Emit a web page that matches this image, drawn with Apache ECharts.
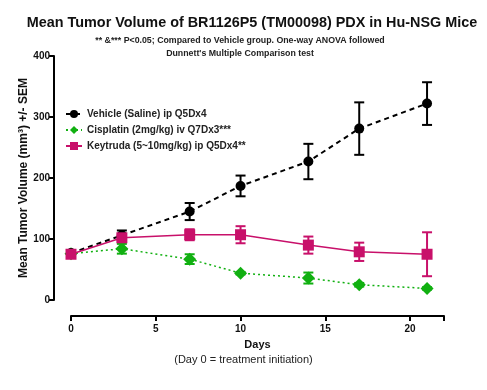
<!DOCTYPE html>
<html><head><meta charset="utf-8">
<script src="https://cdn.jsdelivr.net/npm/echarts@6/dist/echarts.min.js"></script>
<style>html,body{margin:0;padding:0;background:#fff}#c{width:487px;height:390px}</style>
</head><body><div id="c"></div>
<script>
const days = [0, 3, 7, 10, 14, 17, 21];
const vehicleMean = [77, 106, 145, 187, 227, 281, 322];
const vehicleSem = [4, 8, 14, 17, 29, 43, 35];
const cisplatinMean = [76, 84, 67, 44, 36, 25, 19];
const cisplatinSem = [3, 8, 8, 2, 9, 3, 2];
const keytrudaMean = [75, 102, 107, 107, 90, 79, 75];
const keytrudaSem = [3, 4, 9, 14, 14, 15, 36];
const yTicks = [0, 100, 200, 300, 400];
const xTicks = [0, 5, 10, 15, 20];
const names = ['Vehicle (Saline) ip Q5Dx4', 'Cisplatin (2mg/kg) iv Q7Dx3***', 'Keytruda (5~10mg/kg) ip Q5Dx4**'];
const colors = ['#000000', '#11b011', '#c8106a'];

const FONT = 'Liberation Sans, Arial, sans-serif';
const chart = echarts.init(document.getElementById('c'));

function pairs(m) { return days.map((d, i) => [d, m[i]]); }
function errData(m, s) { return days.map((d, i) => [d, m[i] - s[i], m[i] + s[i]]); }
function errSeries(m, s, color) {
  return {
    type: 'custom', silent: true, clip: false, z: 1,
    data: errData(m, s),
    renderItem: function (params, api) {
      const x = api.value(0);
      const lo = api.coord([x, api.value(1)]);
      const hi = api.coord([x, api.value(2)]);
      const w = 5;
      const st = { stroke: color, lineWidth: 2, fill: null };
      return { type: 'group', children: [
        { type: 'line', shape: { x1: lo[0], y1: lo[1], x2: hi[0], y2: hi[1] }, style: st },
        { type: 'line', shape: { x1: lo[0] - w, y1: lo[1], x2: lo[0] + w, y2: lo[1] }, style: st },
        { type: 'line', shape: { x1: hi[0] - w, y1: hi[1], x2: hi[0] + w, y2: hi[1] }, style: st }
      ]};
    }
  };
}

chart.setOption({
  animation: false,
  backgroundColor: '#fff',
  title: [
    { text: 'Mean Tumor Volume of BR1126P5 (TM00098) PDX in Hu-NSG Mice', left: 247, textAlign: 'center', top: 11,
      textStyle: { fontFamily: FONT, fontWeight: 'bold', fontSize: 14.4, color: '#111' } },
    { text: "** &*** P<0.05; Compared to Vehicle group. One-way ANOVA followed\nDunnett's Multiple Comparison test", left: 235, textAlign: 'center', top: 29,
      textStyle: { fontFamily: FONT, fontWeight: 'bold', fontSize: 8.8, lineHeight: 13, color: '#222', align: 'center' } }
  ],
  legend: {
    orient: 'vertical', left: 60, top: 104, itemGap: 6, itemWidth: 16, itemHeight: 10,
    data: names,
    textStyle: { fontFamily: FONT, fontWeight: 'bold', fontSize: 10, color: '#222' }
  },
  grid: { left: 71, right: 43, top: 56, bottom: 90, containLabel: false },
  xAxis: {
    type: 'value', min: 0, max: 22, interval: 5, offset: 16,
    name: 'Days', nameLocation: 'middle', nameGap: 23, nameMoveOverlap: false,
    nameTextStyle: { fontFamily: FONT, fontWeight: 'bold', fontSize: 11, color: '#111' },
    axisLine: { onZero: false, lineStyle: { color: '#000', width: 2 } },
    axisTick: { length: 5, lineStyle: { color: '#000', width: 2 } },
    axisLabel: { fontFamily: FONT, fontWeight: 'bold', fontSize: 10, color: '#111', margin: 8,
      formatter: v => xTicks.includes(v) ? String(v) : '' },
    splitLine: { show: false }
  },
  yAxis: {
    type: 'value', min: 0, max: 400, interval: 100, offset: 17,
    name: 'Mean Tumor Volume (mm³) +/- SEM', nameLocation: 'middle', nameGap: 24, nameMoveOverlap: false,
    nameTextStyle: { fontFamily: FONT, fontWeight: 'bold', fontSize: 12, color: '#111' },
    axisLine: { show: true, onZero: false, lineStyle: { color: '#000', width: 2 } },
    axisTick: { show: true, length: 5, lineStyle: { color: '#000', width: 2 } },
    axisLabel: { fontFamily: FONT, fontWeight: 'bold', fontSize: 10, color: '#111', margin: 4,
      formatter: v => yTicks.includes(v) ? String(v) : '' },
    splitLine: { show: false }
  },
  graphic: [
    { type: 'text', left: 'center', top: 354, style: { text: '(Day 0 = treatment initiation)', x: 0, fontFamily: FONT, fontSize: 11, fill: '#222' } }
  ],
  series: [
    errSeries(vehicleMean, vehicleSem, colors[0]),
    errSeries(cisplatinMean, cisplatinSem, colors[1]),
    errSeries(keytrudaMean, keytrudaSem, colors[2]),
    { name: names[0], type: 'line', data: pairs(vehicleMean), clip: false, z: 3,
      symbol: 'circle', symbolSize: 10, itemStyle: { color: colors[0] },
      lineStyle: { color: colors[0], width: 2, type: [5, 4] } },
    { name: names[1], type: 'line', data: pairs(cisplatinMean), clip: false, z: 2,
      symbol: 'diamond', symbolSize: 13, itemStyle: { color: colors[1] },
      lineStyle: { color: colors[1], width: 1.5, type: [2, 3] } },
    { name: names[2], type: 'line', data: pairs(keytrudaMean), clip: false, z: 4,
      symbol: 'rect', symbolSize: 11, itemStyle: { color: colors[2] },
      lineStyle: { color: colors[2], width: 1.5 } }
  ]
});
</script></body></html>
